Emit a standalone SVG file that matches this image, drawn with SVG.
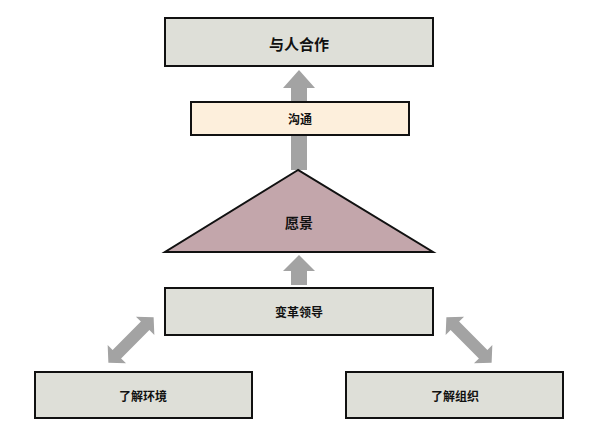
<svg xmlns="http://www.w3.org/2000/svg" width="600" height="440" viewBox="0 0 600 440">
<style>
.box{fill:#dedfd8;stroke:#111;stroke-width:2}
.t{font-family:"Noto Sans CJK SC",sans-serif;font-size:12px;font-weight:bold;text-anchor:middle;dominant-baseline:central;fill:#111}
.arr{fill:#a3a3a3}
</style>
<g id="connectors">
<polygon class="arr" points="291,170 291,88 283,88 299,70 315,88 307,88 307,170"/>
<polygon class="arr" points="291,285 291,271 283,271 299,255 315,271 307,271 307,285"/>
<g transform="translate(131,340) rotate(-45)"><polygon class="arr" points="-32,0 -20,-13 -20,-6 20,-6 20,-13 32,0 20,13 20,6 -20,6 -20,13"/></g>
<g transform="translate(469,340) rotate(45)"><polygon class="arr" points="-32,0 -20,-13 -20,-6 20,-6 20,-13 32,0 20,13 20,6 -20,6 -20,13"/></g>
</g>
<g id="n1"><rect class="box" x="165" y="18" width="268" height="48"/><text class="t" x="299" y="43" style="font-size:15px">与人合作</text></g>
<g id="n2"><rect class="box" x="191" y="102" width="218" height="33" style="fill:#fdefdc"/><text class="t" x="300" y="118">沟通</text></g>
<g id="n3"><polygon points="298,170 165,252 433,252" style="fill:#c3a6ab;stroke:#111;stroke-width:2"/><text class="t" x="299" y="222" style="font-size:14px">愿景</text></g>
<g id="n4"><rect class="box" x="165" y="288" width="268" height="47"/><text class="t" x="299" y="311">变革领导</text></g>
<g id="n5"><rect class="box" x="35" y="372" width="217" height="46"/><text class="t" x="143" y="395">了解环境</text></g>
<g id="n6"><rect class="box" x="346" y="372" width="217" height="46"/><text class="t" x="455" y="395">了解组织</text></g>
</svg>
